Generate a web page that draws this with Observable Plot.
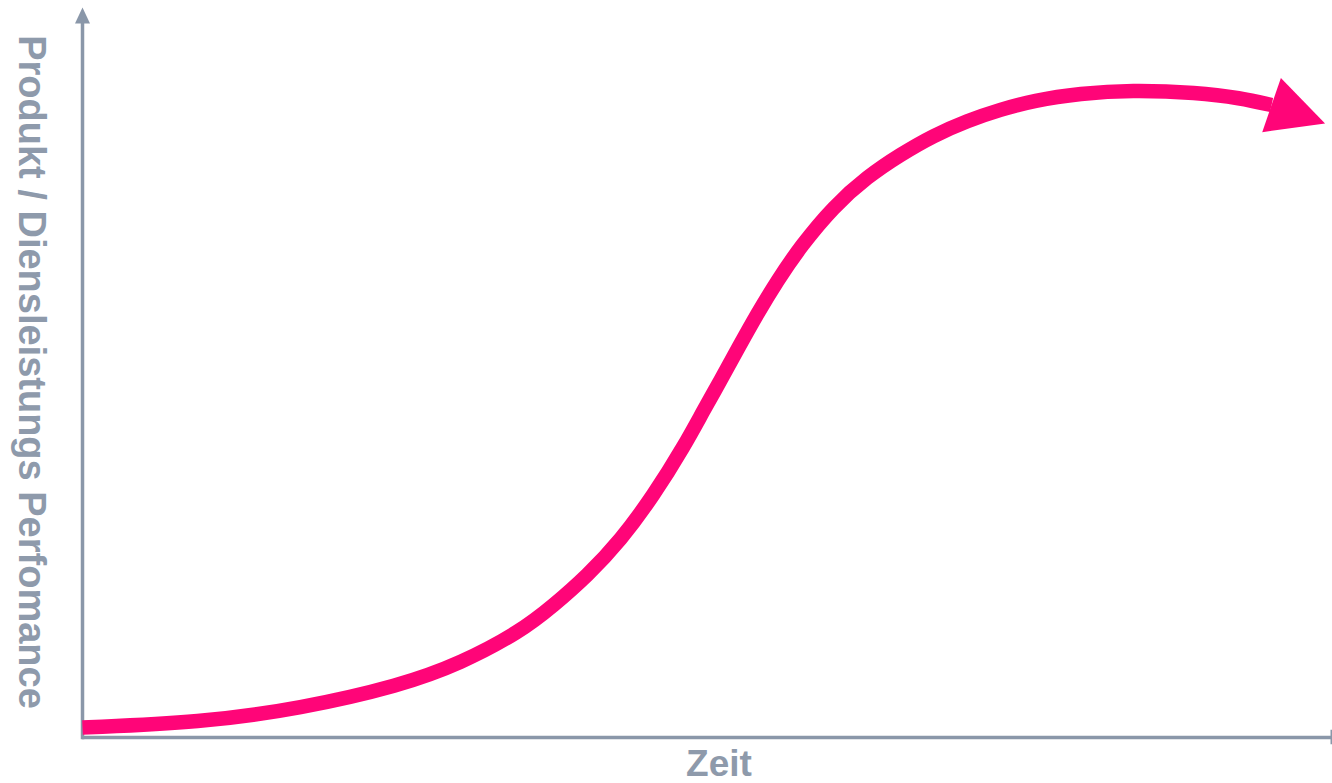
<!DOCTYPE html>
<html>
<head>
<meta charset="utf-8">
<script src="https://cdn.jsdelivr.net/npm/d3@7"></script>
<script src="https://cdn.jsdelivr.net/npm/@observablehq/plot@0.6"></script>
<style>
  html, body { margin: 0; padding: 0; background: #fff; overflow: hidden; }
  #chart { width: 1332px; height: 783px; }
</style>
</head>
<body>
<div id="chart"></div>
<script>
// Data (x: Zeit 0–100, y: Performance 0–100)
const zeit = [0, 9.45, 17.45, 25.46, 30.26, 35.07, 37.71, 40.43, 43.07, 45.72, 48.2, 49.72, 51.08, 52.52, 54.04, 55.64, 57.49, 60.13, 62.85, 65.49, 68.13, 70.86, 73.5, 76.14, 79.9, 83.91, 89.27, 92.71, 95.2];
const performance = [1.39, 2.09, 4.04, 7.25, 10.32, 14.78, 18.41, 22.59, 27.48, 33.75, 40.72, 45.61, 49.79, 54.39, 59.14, 63.74, 68.48, 74.06, 78.24, 81.31, 83.96, 86.05, 87.59, 88.84, 89.82, 90.31, 89.96, 89.19, 88.21];
const xLabel = "Zeit";
const yLabel = "Produkt / Diensleistungs Perfomance";
const axisExtent = [0, 100];

const data = zeit.map((t, i) => ({zeit: t, performance: performance[i]}));
const last = data[data.length - 1];

const pink = "#ff0578";
const gray = "#8a97a9";
const textGray = "#8e9aab";

// Filled arrowhead symbol anchored at its base midpoint, pointing along angle (degrees, clockwise from +x)
function arrowHead(length, halfWidth, angleDeg) {
  const a = angleDeg * Math.PI / 180, c = Math.cos(a), s = Math.sin(a);
  return {
    draw(ctx) {
      ctx.moveTo(length * c, length * s);
      ctx.lineTo(-halfWidth * s, halfWidth * c);
      ctx.lineTo(halfWidth * s, -halfWidth * c);
      ctx.closePath();
    }
  };
}

const chart = Plot.plot({
  width: 1332,
  height: 783,
  marginLeft: 82,
  marginRight: 1,
  marginTop: 20,
  marginBottom: 46,
  x: {domain: axisExtent, axis: null},
  y: {domain: axisExtent, axis: null},
  style: {background: "#fff"},
  marks: [
    // x axis
    Plot.ruleY([axisExtent[0]], {x1: axisExtent[0], x2: axisExtent[1], stroke: gray, strokeWidth: 3.5}),
    Plot.ruleX([axisExtent[1]], {y1: -1, y2: 1, stroke: gray, strokeWidth: 2}),
    // y axis
    Plot.ruleX([axisExtent[0]], {y1: -0.3, y2: axisExtent[1], stroke: gray, strokeWidth: 3.5}),
    Plot.dot([{x: axisExtent[0], y: axisExtent[1]}], {x: "x", y: "y", r: 5, dy: 3, symbol: arrowHead(16, 7.5, -90), fill: gray, stroke: "none"}),
    // S-curve
    Plot.line(data, {x: "zeit", y: "performance", curve: "basis", stroke: pink, strokeWidth: 14.5, strokeLinecap: "butt", strokeLinejoin: "round"}),
    Plot.dot([last], {x: "zeit", y: "performance", r: 5, symbol: arrowHead(56.6, 28.7, 19), fill: pink, stroke: "none"}),
    // labels
    Plot.text([xLabel], {text: d => d, frameAnchor: "bottom", dx: 12, dy: 27, lineAnchor: "middle", textAnchor: "middle", fontSize: 37, fontWeight: "bold", fontFamily: "'Liberation Sans', Arial, sans-serif", fill: textGray}),
    Plot.text([yLabel], {text: d => d, frameAnchor: "left", dx: -51, dy: -7, rotate: 90, lineAnchor: "middle", textAnchor: "middle", fontSize: 38, fontWeight: "bold", fontFamily: "'Liberation Sans', Arial, sans-serif", fill: textGray})
  ]
});
document.getElementById("chart").appendChild(chart);
</script>
</body>
</html>
